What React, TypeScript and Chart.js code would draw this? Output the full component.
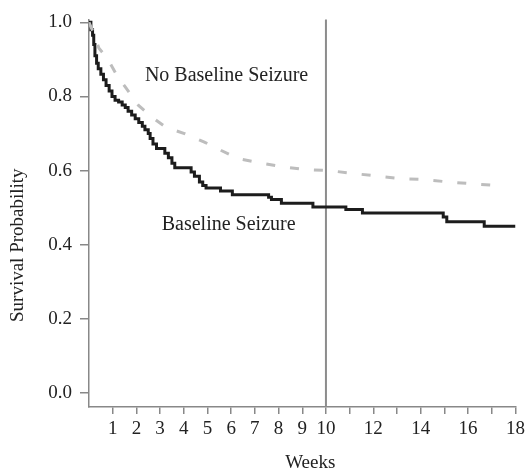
import React, { useEffect, useRef } from 'react';
import { Chart, registerables } from 'chart.js';

Chart.register(...registerables);

// Kaplan-Meier: Baseline Seizure (black, solid)
const seizureWeeks = [0, 0.08, 0.15, 0.2, 0.25, 0.32, 0.39, 0.5, 0.61, 0.72, 0.85, 0.97, 1.1, 1.25, 1.4, 1.53, 1.65, 1.8, 1.95, 2.1, 2.25, 2.36, 2.5, 2.58, 2.7, 2.85, 3.2, 3.35, 3.5, 3.62, 4.31, 4.45, 4.66, 4.8, 4.94, 5.55, 6.05, 7.58, 7.7, 8.12, 9.45, 10.84, 11.54, 14.95, 15.1, 16.68, 18];
const seizureSurv = [1.0, 0.98, 0.965, 0.94, 0.91, 0.89, 0.875, 0.86, 0.845, 0.83, 0.815, 0.8, 0.79, 0.785, 0.777, 0.77, 0.76, 0.75, 0.74, 0.73, 0.72, 0.71, 0.7, 0.687, 0.672, 0.66, 0.647, 0.635, 0.62, 0.608, 0.596, 0.585, 0.569, 0.56, 0.553, 0.545, 0.535, 0.528, 0.522, 0.512, 0.502, 0.495, 0.486, 0.475, 0.462, 0.45, 0.45];

// No Baseline Seizure (gray, dashed)
const noSeizureWeeks = [0, 0.2, 0.42, 0.77, 1.18, 1.53, 2.09, 2.64, 3.27, 4.03, 4.87, 5.56, 6.33, 7.3, 8.2, 9.1, 10.15, 11.2, 12.08, 13.1, 14.1, 15.08, 16.05, 17.17, 17.4];
const noSeizureSurv = [1.0, 0.97, 0.93, 0.903, 0.857, 0.826, 0.776, 0.745, 0.716, 0.7, 0.677, 0.655, 0.632, 0.62, 0.61, 0.603, 0.6, 0.592, 0.586, 0.579, 0.576, 0.57, 0.565, 0.56, 0.558];

const xTickValues = [1, 2, 3, 4, 5, 6, 7, 8, 9, 10, 11, 12, 13, 14, 15, 16, 17, 18];
const xTickLabels = ['1', '2', '3', '4', '5', '6', '7', '8', '9', '10', '', '12', '', '14', '', '16', '', '18'];
const yTickValues = [0, 0.2, 0.4, 0.6, 0.8, 1.0];
const referenceWeek = 10;

const annotationTexts = ['No Baseline Seizure', 'Baseline Seizure'];
const annotationWeeks = [2.36, 3.07];
const annotationSurv = [0.841, 0.439];

const xTitle = 'Weeks';
const yTitle = 'Survival Probability';

const FONT = "'Liberation Serif', 'DejaVu Serif', serif";

export default function App() {
  const ref = useRef<HTMLCanvasElement | null>(null);

  useEffect(() => {
    if (!ref.current) return;

    const overlay = {
      id: 'overlay',
      beforeDatasetsDraw(chart: any) {
        const { ctx, chartArea, scales } = chart;
        const px = scales.x.getPixelForValue(referenceWeek);
        ctx.save();
        ctx.strokeStyle = '#8c8c8c';
        ctx.lineWidth = 2;
        ctx.beginPath();
        ctx.moveTo(px, chartArea.top);
        ctx.lineTo(px, chartArea.bottom);
        ctx.stroke();
        ctx.restore();
      },
      afterDraw(chart: any) {
        const { ctx, chartArea, scales } = chart;
        ctx.save();
        ctx.fillStyle = '#222';
        ctx.font = `20px ${FONT}`;
        ctx.textAlign = 'left';
        ctx.textBaseline = 'alphabetic';
        annotationTexts.forEach((t, i) => {
          ctx.fillText(t, scales.x.getPixelForValue(annotationWeeks[i]), scales.y.getPixelForValue(annotationSurv[i]));
        });
        // axis titles
        ctx.font = `19px ${FONT}`;
        ctx.textAlign = 'center';
        ctx.fillText(xTitle, (chartArea.left + chartArea.right) / 2 + 8, chartArea.bottom + 61);
        ctx.translate(23, (chartArea.top + chartArea.bottom) / 2 + 32);
        ctx.rotate(-Math.PI / 2);
        ctx.fillText(yTitle, 0, 0);
        ctx.restore();
      },
    };

    const chart = new Chart(ref.current, {
      type: 'line',
      data: {
        datasets: [
          {
            label: 'No Baseline Seizure',
            data: noSeizureWeeks.map((w, i) => ({ x: w, y: noSeizureSurv[i] })),
            borderColor: '#bdbdbd',
            borderWidth: 3,
            borderDash: [9, 15],
            pointRadius: 0,
            tension: 0,
            fill: false,
          },
          {
            label: 'Baseline Seizure',
            data: seizureWeeks.map((w, i) => ({ x: w, y: seizureSurv[i] })),
            borderColor: '#1c1c1c',
            borderWidth: 3,
            pointRadius: 0,
            stepped: true,
            fill: false,
          },
        ],
      },
      options: {
        animation: false,
        responsive: true,
        maintainAspectRatio: false,
        layout: { padding: { top: 19, right: 9, left: 0, bottom: 0 } },
        plugins: { legend: { display: false }, tooltip: { enabled: false } },
        scales: {
          x: {
            type: 'linear',
            min: 0,
            max: 18,
            afterBuildTicks: (s: any) => {
              s.ticks = xTickValues.map((v) => ({ value: v }));
            },
            afterFit: (s: any) => {
              s.height = 63;
            },
            ticks: {
              autoSkip: false,
              maxRotation: 0,
              minRotation: 0,
              padding: 4,
              color: '#222',
              font: { family: FONT, size: 19 },
              callback: (_v: any, i: number) => xTickLabels[i],
            },
            grid: { drawOnChartArea: false, drawTicks: true, tickLength: 7, color: '#888', lineWidth: 1.5 },
            border: { display: true, color: '#888', width: 1.5 },
          },
          y: {
            type: 'linear',
            min: -0.0377,
            max: 1.008,
            afterBuildTicks: (s: any) => {
              s.ticks = yTickValues.map((v) => ({ value: v }));
            },
            afterFit: (s: any) => {
              s.width = 89;
            },
            ticks: {
              padding: 8,
              color: '#222',
              font: { family: FONT, size: 19 },
              callback: (v: any) => Number(v).toFixed(1),
            },
            grid: { drawOnChartArea: false, drawTicks: true, tickLength: 9, color: '#888', lineWidth: 1.5 },
            border: { display: true, color: '#888', width: 1.5 },
          },
        },
      },
      plugins: [overlay],
    });

    return () => chart.destroy();
  }, []);

  return (
    <div style={{ position: 'fixed', left: 0, top: 0, width: 529, height: 470 }}>
      <canvas ref={ref} />
    </div>
  );
}
